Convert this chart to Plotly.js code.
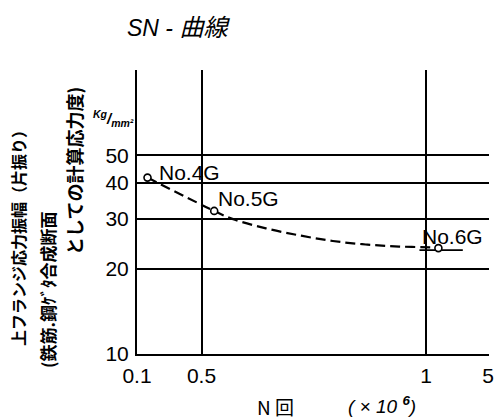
<!DOCTYPE html>
<html>
<head>
<meta charset="utf-8">
<script src="https://cdn.plot.ly/plotly-3.0.1.min.js"></script>
<style>html,body{margin:0;padding:0;background:#fff;}#chart{width:496px;height:420px;}</style>
</head>
<body>
<div id="chart"></div>
<script>
// ---- data ----
const xTickValues = [0.1, 0.5, 1, 5];          // N (x10^6)
const xTickLabels = ['0.1', '0.5', '1', '5'];
const yTickValues = [10, 20, 30, 40, 50];       // kg/mm^2
const yTickLabels = ['10', '20', '30', '40', '50'];

const specimenNames = ['No.4G', 'No.5G', 'No.6G'];
const specimenN = [0.13, 0.52, 1.38];
const specimenS = [41.8, 31.9, 23.6];

const curveN = [0.13, 0.52, 0.55, 0.61, 0.68, 0.75, 0.83, 0.92, 1.21, 1.38];
const curveS = [41.8, 31.9, 29.9, 27.7, 26.1, 25.0, 24.3, 23.9, 23.7, 23.6];

const tailN = [0.98, 2.6];
const tailS = [23.2, 23.2];

// ---- layout / style ----
const L = 137, T = 70, W = 352, H = 284;
// the original drawing's N axis is not uniformly logarithmic: each
// interval between labelled ticks has its own length (layout only)
const tickAxisPos = [0, 64.5, 289, 351];
function xpos(n) {
  for (let i = 0; i < xTickValues.length - 1; i++) {
    if (n <= xTickValues[i + 1] || i === xTickValues.length - 2) {
      const f = Math.log(n / xTickValues[i]) / Math.log(xTickValues[i + 1] / xTickValues[i]);
      return tickAxisPos[i] + f * (tickAxisPos[i + 1] - tickAxisPos[i]);
    }
  }
}
const px2x = px => (px - L) / W;
const py2y = py => (T + H - py) / H;

const LAT = 'Liberation Sans, Arial, sans-serif';
const CJK = 'Noto Sans CJK JP, sans-serif';

const traces = [
  {
    x: curveN.map(xpos), y: curveS, mode: 'lines', type: 'scatter',
    line: {color: '#000', width: 2.2, dash: '10px,5px', shape: 'spline'},
    hoverinfo: 'skip'
  },
  {
    x: tailN.map(xpos), y: tailS, mode: 'lines', type: 'scatter',
    line: {color: '#000', width: 1.8}, hoverinfo: 'skip'
  },
  {
    x: specimenN.map(xpos), y: specimenS, mode: 'markers', type: 'scatter',
    marker: {symbol: 'circle', size: 7, color: '#fff', line: {color: '#000', width: 1.6}},
    text: specimenNames, hoverinfo: 'text'
  }
];

const labelShift = [[9, 5], [2, 12], [-18, 12]];
const annotations = specimenNames.map((t, i) => ({
  x: xpos(specimenN[i]), y: Math.log10(specimenS[i]), xref: 'x', yref: 'y',
  text: t, showarrow: false, xanchor: 'left', yanchor: 'middle',
  xshift: labelShift[i][0], yshift: labelShift[i][1],
  font: {family: LAT, size: 21, color: '#000'}
}));

function note(px, py, text, font, extra) {
  return Object.assign({xref: 'paper', yref: 'paper', x: px2x(px), y: py2y(py),
    xanchor: 'center', yanchor: 'middle', showarrow: false, text: text, font: font}, extra || {});
}

annotations.push(
  note(178, 25, '<i>SN - <span style="font-family:Noto Sans CJK JP;font-size:24px">曲線</span></i>',
       {family: LAT, size: 23, color: '#000'}),
  note(113, 118, '<b><i><sup>Kg</sup>/<sub>mm²</sub></i></b>', {family: LAT, size: 15, color: '#000'}),
  note(18, 234, '<b>上フランジ応力振幅（片振り）</b>', {family: CJK, size: 16, color: '#000'}, {textangle: -90}),
  note(47, 290, '<b>(鉄筋.鋼ｹﾞﾀ合成断面</b>', {family: CJK, size: 17, color: '#000'}, {textangle: -90}),
  note(74, 171, '<b>としての計算応力度)</b>', {family: CJK, size: 18, color: '#000'}, {textangle: -90}),
  note(275, 406, 'N 回', {family: CJK, size: 19, color: '#000'}),
  note(382, 405, '<i>( × 10 <sup><b>6</b></sup>)</i>', {family: LAT, size: 19, color: '#000'})
);

const layout = {
  width: 496, height: 420,
  margin: {l: L, r: 496 - L - W, t: T, b: 420 - T - H, pad: 0},
  paper_bgcolor: '#fff', plot_bgcolor: '#fff',
  showlegend: false,
  xaxis: {
    type: 'linear', range: [0, W],
    tickmode: 'array', tickvals: xTickValues.map(xpos), ticktext: xTickLabels,
    showgrid: true, gridcolor: '#000', gridwidth: 2,
    showline: true, linecolor: '#000', linewidth: 2,
    zeroline: false, ticks: '', ticklabelstandoff: 2,
    tickfont: {family: LAT, size: 21, color: '#000'}
  },
  yaxis: {
    type: 'log', range: [1, 2],
    tickmode: 'array', tickvals: yTickValues, ticktext: yTickLabels,
    showgrid: true, gridcolor: '#000', gridwidth: 2,
    showline: true, linecolor: '#000', linewidth: 2,
    zeroline: false, ticks: '', ticklabelstandoff: 2,
    tickfont: {family: LAT, size: 21, color: '#000'}
  },
  annotations: annotations
};

Plotly.newPlot('chart', traces, layout, {displayModeBar: false, staticPlot: true});
</script>
</body>
</html>
